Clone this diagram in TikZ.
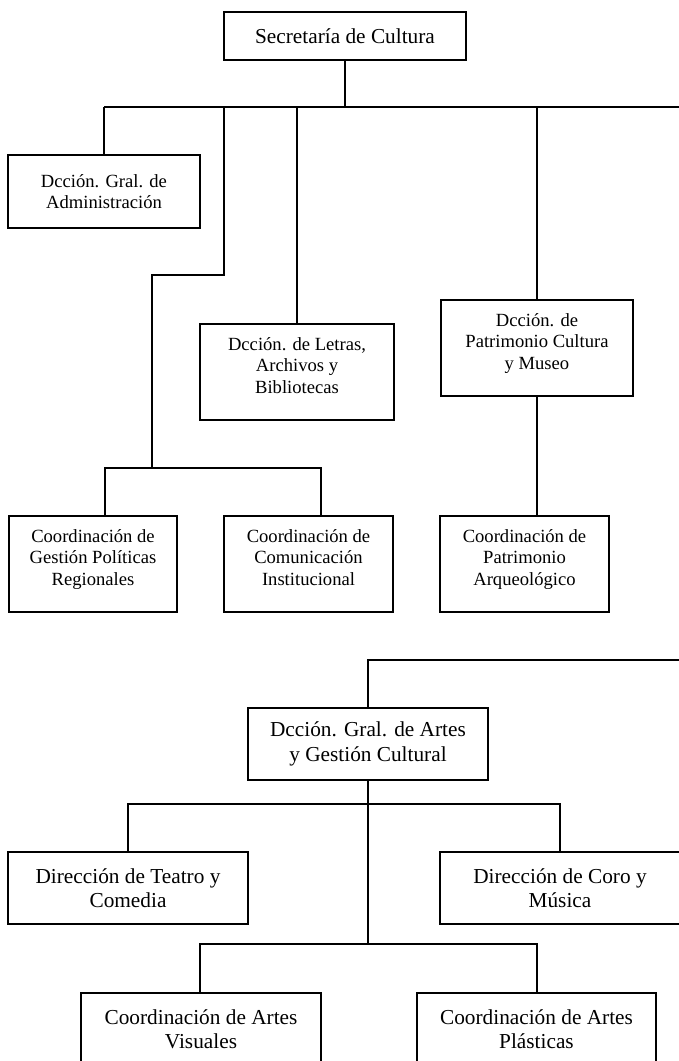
\documentclass[tikz,border=0pt]{standalone}
\usepackage{fontspec}
\setmainfont{Liberation Serif}
\newcommand\smallfnt{\fontsize{18.6}{21.4}\selectfont}
\newcommand\bigfnt{\fontsize{21.3}{24.4}\selectfont}
\begin{document}
\begin{tikzpicture}[x=1pt,y=-1pt,
  box/.style={draw, line width=1.5pt, inner sep=0pt, align=center, font=\smallfnt},
  big/.style={font=\bigfnt},
  raised/.style={text depth=13pt},
  conn/.style={line width=1.3pt}]
\useasboundingbox (0,0) rectangle (679,1061);
\clip (0,0) rectangle (679,1061);
% top section
\node[box, big, minimum width=242pt, minimum height=48pt] (sec) at (345,36) {Secretaría de Cultura};
\node[box, minimum width=192pt, minimum height=73pt] (adm) at (104,191.5) {Dcción. Gral. de\\Administración};
\node[box, raised, minimum width=194pt, minimum height=96pt] (let) at (297,372) {Dcción. de Letras,\\Archivos y\\Bibliotecas};
\node[box, raised, minimum width=192pt, minimum height=96pt] (pat) at (537,348) {Dcción. de\\Patrimonio Cultura\\y Museo};
\node[box, raised, minimum width=169pt, minimum height=96pt] (arq) at (524.5,564) {Coordinación de\\Patrimonio\\Arqueológico};
\node[box, raised, minimum width=168pt, minimum height=96pt] (ges) at (93,564) {Coordinación de\\Gestión Políticas\\Regionales};
\node[box, raised, minimum width=169pt, minimum height=96pt] (com) at (308.5,564) {Coordinación de\\Comunicación\\Institucional};
% bottom section
\node[box, big, minimum width=240pt, minimum height=72pt] (art) at (368,744) {Dcción. Gral. de Artes\\y Gestión Cultural};
\node[box, big, minimum width=240pt, minimum height=72pt] (tea) at (128,888) {Dirección de Teatro y\\Comedia};
\node[box, big, minimum width=240pt, minimum height=72pt] (cor) at (560,888) {Dirección de Coro y\\Música};
\node[box, big, minimum width=240pt, minimum height=72pt] (vis) at (201,1029) {Coordinación de Artes\\Visuales};
\node[box, big, minimum width=239pt, minimum height=72pt] (pla) at (536.5,1029) {Coordinación de Artes\\Plásticas};
% connectors top
\coordinate (busL) at (104,107);
\coordinate (busR) at (679,107);
\draw[conn] (sec.south) -- (sec.south |- busL);
\draw[conn] (busL) -- (busR);
\draw[conn] (adm.north |- busL) -- (adm.north);
\draw[conn] (let.north |- busL) -- (let.north);
\draw[conn] (pat.north |- busL) -- (pat.north);
\coordinate (g1) at (224,107);
\coordinate (g2) at (224,275);
\coordinate (g3) at (152,275);
\coordinate (g4) at (152,468);
\draw[conn] (g1) -- (g2) -- (g3) -- (g4);
\coordinate (bl) at (105,468);
\coordinate (br) at (321,468);
\draw[conn] (ges.north -| bl) -- (bl) -- (br) -- (com.north -| br);
\draw[conn] (pat.south) -- (arq.north -| pat.south);
% connectors bottom
\coordinate (aR) at (679,660);
\draw[conn] (aR) -- (art.north |- aR) -- (art.north);
\coordinate (bus2) at (368,804);
\draw[conn] (tea.north) -- (tea.north |- bus2) -- (cor.north |- bus2) -- (cor.north);
\coordinate (bus3) at (368,944);
\draw[conn] (art.south) -- (art.south |- bus3);
\coordinate (vx) at (200,944);
\coordinate (px) at (537,944);
\draw[conn] (vis.north -| vx) -- (vx) -- (px) -- (pla.north -| px);
\end{tikzpicture}
\end{document}
